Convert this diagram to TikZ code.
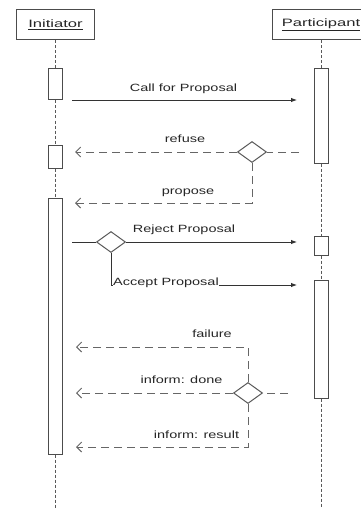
\documentclass[tikz,border=0pt]{standalone}
\usepackage{fontspec}
\setmainfont[FakeStretch=1.38]{Liberation Sans}
\newfontfamily\headfont[FakeStretch=1.55]{Liberation Sans}
\usetikzlibrary{positioning, shapes.geometric, arrows.meta, calc}

\begin{document}
\begin{tikzpicture}[x=1pt, y=-1pt,
  head/.style={draw=black!70, line width=1pt, minimum height=30pt, inner sep=0pt, text=black!85, font=\headfont\fontsize{10.7}{12}\selectfont},
  act/.style={draw=black!70, line width=1pt, minimum width=14pt, inner sep=0pt},
  life/.style={draw=black!65, line width=1pt, dash pattern=on 3pt off 2pt},
  msg/.style={draw=black!80, line width=0.9pt, -{Latex[length=6pt,width=4.5pt]}},
  reply/.style={draw=black!60, line width=1pt, dash pattern=on 8pt off 5pt},
  back/.style={-{Straight Barb[length=5pt,width=10pt]}},
  choice/.style={diamond, draw=black!65, line width=1pt, minimum width=29pt, minimum height=21pt, inner sep=0pt, fill=white},
  lbl/.style={font=\fontsize{10.5}{12}\selectfont, text=black!85, inner sep=0pt, anchor=base}]
  \useasboundingbox (0,0) rectangle (360,508);

  % lifeline heads and activations
  \node[head, minimum width=78pt] (init) at (55.5,25) {\underline{Initiator}};
  \node[head, minimum width=98pt] (part) at (321,25) {\underline{Participant}};
  \node[act, minimum height=31pt] (i1) at (55.5,84.5) {};
  \node[act, minimum height=23pt] (i2) at (55.5,156.5) {};
  \node[act, minimum height=256pt] (i3) at (55.5,326) {};
  \node[act, minimum height=94pt] (p1) at (321,116) {};
  \node[act, minimum height=19pt] (p2) at (321,245.5) {};
  \node[act, minimum height=118pt] (p3) at (321,339) {};
  \coordinate (iend) at (55.5,508);
  \coordinate (pend) at (321,508);

  \draw[life] (init) -- (i1) (i1) -- (i2) (i2) -- (i3) (i3) -- (iend);
  \draw[life] (part) -- (p1) (p1) -- (p2) (p2) -- (p3) (p3) -- (pend);

  % decision points
  \node[choice] (d1) at (252,152) {};
  \node[choice] (d2) at (111,242) {};
  \node[choice] (d3) at (248,393) {};

  \coordinate (cfpA) at (72,100);   \coordinate (cfpB) at (297,100);
  \coordinate (refA) at (299,152);  \coordinate (refB) at (75,152);
  \coordinate (propB) at (75,203);
  \coordinate (rejA) at (72,242);   \coordinate (rejB) at (297,242);
  \coordinate (accB) at (297,285);
  \coordinate (failB) at (76,347);
  \coordinate (doneA) at (288,393); \coordinate (doneB) at (76,393);
  \coordinate (resB) at (76,447);

  \draw[msg] (cfpA) -- (cfpB);
  \draw[reply] (refA) -- (d1.east);
  \draw[reply, back] (d1.west) -- (refB);
  \draw[reply, back] (d1.south) |- (propB);
  \draw[msg, -] (rejA) -- (d2.west);
  \draw[msg] (d2.east) -- (rejB);
  \draw[msg] (d2.south) |- (accB);
  \draw[reply, back] (d3.north) |- (failB);
  \draw[reply] (doneA) -- (d3.east);
  \draw[reply, back] (d3.west) -- (doneB);
  \draw[reply, back] (d3.south) |- (resB);

  % message labels
  \node[lbl] (cfpL) at (183.5,92) {Call for Proposal};
  \node[lbl] (refL) at (185,142) {refuse};
  \node[lbl] (propL) at (188,194) {propose};
  \node[lbl] (rejL) at (184,232) {Reject Proposal};
  \node[lbl, fill=white] (accL) at (166,285) {Accept Proposal};
  \node[lbl] (failL) at (212,337) {failure};
  \node[lbl] (doneL) at (181.5,383) {inform: done};
  \node[lbl] (resL) at (196.5,438) {inform: result};
\end{tikzpicture}
\end{document}
